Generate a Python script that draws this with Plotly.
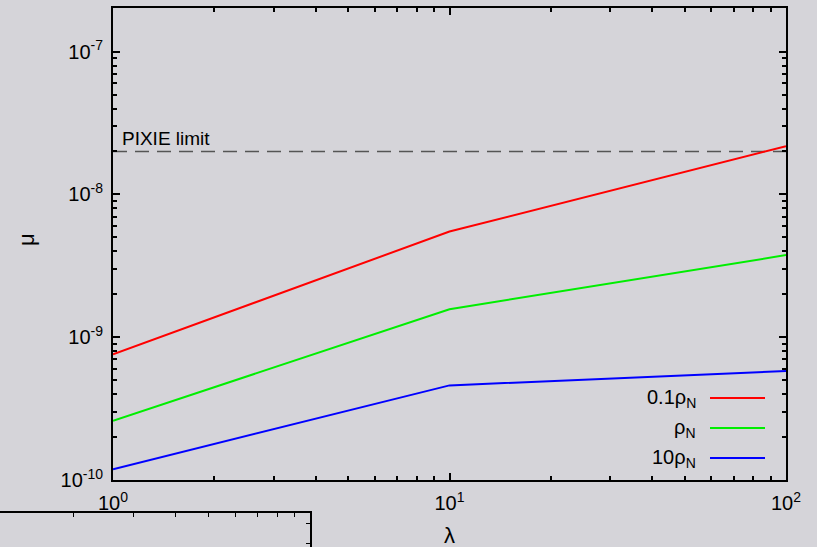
import math
import plotly.graph_objects as go

# ---- data ----
lam = [1, 10, 100]
mu_01rho = [7.6e-10, 5.5e-9, 2.18e-8]
mu_rho = [2.6e-10, 1.57e-9, 3.76e-9]
mu_10rho = [1.19e-10, 4.6e-10, 5.8e-10]
pixie_limit = 2e-8
series_names = ["0.1ρ<sub>N</sub>", "ρ<sub>N</sub>", "10ρ<sub>N</sub>"]
series_colors = ["#ff0000", "#00ee00", "#0000ff"]
y_tickvals = [1e-10, 1e-9, 1e-8, 1e-7]
y_ticktext = ["10<sup>-10</sup>", "10<sup>-9</sup>", "10<sup>-8</sup>", "10<sup>-7</sup>"]
x_tickvals = [1, 10, 100]
x_ticktext = ["10<sup>0</sup>", "10<sup>1</sup>", "10<sup>2</sup>"]

BG = "#d5d4d9"
FONT = "Liberation Sans, Arial, sans-serif"

# minor tick positions (2..9 within each decade)
x_minor = [m * 10 ** d for d in range(0, 2) for m in range(2, 10)]
y_minor = [m * 10.0 ** d for d in range(-10, -6) for m in range(2, 10)]

fig = go.Figure()

# PIXIE limit dashed line
fig.add_trace(go.Scatter(x=[lam[0], lam[-1]], y=[pixie_limit, pixie_limit], mode="lines",
                         line=dict(color="#555555", width=1.5, dash="14px,8px"),
                         showlegend=False, hoverinfo="skip"))

for vals, color in zip([mu_01rho, mu_rho, mu_10rho], series_colors):
    fig.add_trace(go.Scatter(x=lam, y=vals, mode="lines",
                             line=dict(color=color, width=2), showlegend=False))

# invisible trace to activate the neighbouring-panel axes
fig.add_trace(go.Scatter(x=[3], y=[10], xaxis="x2", yaxis="y2", mode="markers",
                         marker=dict(opacity=0), showlegend=False, hoverinfo="skip"))

XDOM = [113/817, 786/817]
YDOM = [1-480/547, 1-8/547]
XR = [0, 2]
YR = [-10, -6.694]

axis_common = dict(showline=True, linecolor="black", linewidth=2, mirror="ticks",
                   ticks="inside", tickcolor="black", ticklen=7, tickwidth=1.5,
                   showgrid=False, zeroline=False, automargin=False,
                   tickfont=dict(family=FONT, size=20, color="black"))

def minor(vals):
    return dict(tickmode="array", tickvals=vals, ticks="inside", ticklen=4,
                tickwidth=1.5, tickcolor="black", showgrid=False)

fig.update_layout(
    width=817, height=547,
    margin=dict(l=0, r=0, t=0, b=0),
    paper_bgcolor=BG, plot_bgcolor=BG,
    xaxis=dict(type="log", range=XR, domain=XDOM, tickvals=x_tickvals, ticktext=x_ticktext,
               minor=minor(x_minor), anchor="y", ticklabelstandoff=4, **axis_common),
    yaxis=dict(type="log", range=YR, domain=YDOM, tickvals=y_tickvals, ticktext=y_ticktext,
               minor=minor(y_minor), anchor="x", ticklabelstandoff=4, **axis_common),
    # partial frame of the neighbouring panel (bottom-left)
    xaxis2=dict(type="log", range=[0.083, 1], domain=[0, 310/817], anchor="y2", side="top",
                showline=True, linecolor="black", linewidth=2, ticks="inside", ticklen=4,
                tickcolor="black", tickvals=[2, 3, 4, 5, 6, 7, 8, 9], showticklabels=False,
                showgrid=False, zeroline=False, automargin=False),
    yaxis2=dict(range=[0, 34], domain=[0, 34/547], anchor="x2", side="right",
                showline=True, linecolor="black", linewidth=2, ticks="inside", ticklen=4,
                tickcolor="black", tickvals=[4, 24], showticklabels=False,
                showgrid=False, zeroline=False, automargin=False),
)

# axis titles
fig.add_annotation(x=(XDOM[0] + XDOM[1]) / 2, y=1 - 535/547, xref="paper", yref="paper",
                   text="λ", showarrow=False, xanchor="center", yanchor="middle",
                   font=dict(family=FONT, size=22, color="black"))
fig.add_annotation(x=27/817, y=1 - 240/547, xref="paper", yref="paper",
                   text="μ", showarrow=False, xanchor="center", yanchor="middle", textangle=-90,
                   font=dict(family=FONT, size=22, color="black"))

# PIXIE label (log axes: annotation positions in log10 units)
fig.add_annotation(x=math.log10(lam[0]), y=math.log10(pixie_limit), xref="x", yref="y",
                   text="PIXIE limit", showarrow=False, xanchor="left", yanchor="bottom",
                   xshift=7, yshift=0,
                   font=dict(family=FONT, size=19, color="black"))

# custom legend: text left, line sample right
leg_y = [398, 428, 458]
for name, color, yp in zip(series_names, series_colors, leg_y):
    yy = 1 - yp / 547
    fig.add_shape(type="line", xref="paper", yref="paper", x0=710/817, x1=765/817, y0=yy, y1=yy,
                  line=dict(color=color, width=2))
    fig.add_annotation(x=698/817, y=yy, xref="paper", yref="paper", text=name, showarrow=False,
                       xanchor="right", yanchor="middle",
                       font=dict(family=FONT, size=20, color="black"))

fig.write_html("out.html", config={"displayModeBar": False},
               post_script="document.body.style.margin='0';document.body.style.overflow='hidden';")
